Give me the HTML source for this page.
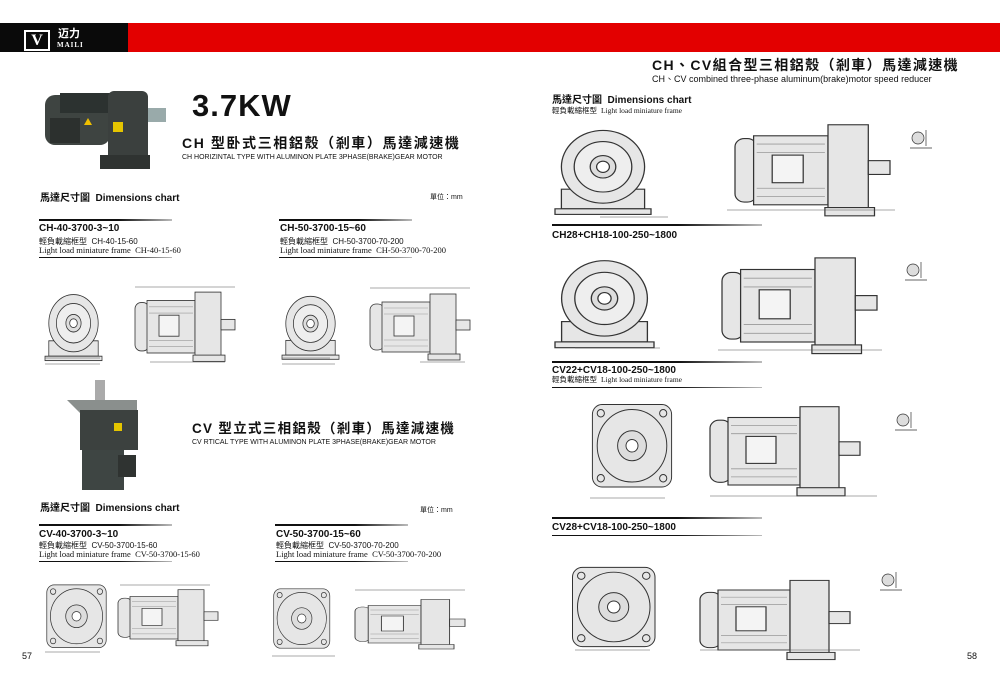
<!DOCTYPE html>
<html><head><meta charset="utf-8"><style>
*{margin:0;padding:0}
body{width:1000px;height:683px;background:#fff;position:relative;overflow:hidden;font-family:"Liberation Sans","Noto Sans CJK TC",sans-serif;color:#111}
.a{position:absolute;white-space:nowrap;line-height:1.15}
.b{font-weight:bold}
.ser{font-family:"Liberation Serif","Noto Serif CJK SC",serif}
.ln{position:absolute;height:2px;background:linear-gradient(90deg,#111 60%,#bbb)}
</style></head><body>
<div class="a" style="left:0;top:23px;width:128px;height:29px;background:#0a0a0a"></div>
<div class="a" style="left:128px;top:23px;width:872px;height:29px;background:#e30000"></div>
<div class="a" style="left:24px;top:30px;width:22px;height:17px;border:2px solid #fff;color:#fff;font:bold 16px 'Liberation Serif';text-align:center;line-height:17px">V</div>
<div class="a b" style="left:58px;top:28px;color:#fff;font-size:11px;line-height:1;font-family:'Noto Sans CJK SC',sans-serif">迈力</div>
<div class="a b ser" style="left:57px;top:42px;color:#fff;font-size:7px;line-height:1;letter-spacing:1px">MAILI</div>

<svg class="a" style="left:0;top:0" width="1000" height="683">
<defs>
<g id="side" fill="#e6e6e6" stroke="#333" stroke-width="0.8">
<rect x="0" y="12" width="14" height="46" rx="6"/>
<rect x="12" y="10" width="48" height="50"/>
<g stroke="#999" stroke-width="0.6"><line x1="14" y1="16" x2="58" y2="16"/><line x1="14" y1="22" x2="58" y2="22"/><line x1="14" y1="48" x2="58" y2="48"/><line x1="14" y1="54" x2="58" y2="54"/></g>
<rect x="24" y="24" width="20" height="20" fill="#f4f4f4"/>
<rect x="60" y="2" width="26" height="62"/>
<rect x="58" y="62" width="32" height="6"/>
<rect x="86" y="28" width="14" height="10"/>
</g>
<g id="front" fill="#e6e6e6" stroke="#333" stroke-width="0.8">
<rect x="4" y="48" width="52" height="14"/>
<circle cx="30" cy="32" r="26"/>
<circle cx="30" cy="32" r="18" fill="#eee"/>
<circle cx="30" cy="32" r="8" fill="#ddd"/>
<circle cx="30" cy="32" r="4" fill="#fff"/>
<rect x="0" y="62" width="60" height="4"/>
</g>
<g id="flange" fill="#e6e6e6" stroke="#333" stroke-width="0.8">
<rect x="2" y="2" width="66" height="66" rx="8"/>
<circle cx="35" cy="35" r="29"/>
<circle cx="35" cy="35" r="12" fill="#ddd"/>
<circle cx="35" cy="35" r="5" fill="#fff"/>
<circle cx="9" cy="9" r="3"/><circle cx="61" cy="9" r="3"/><circle cx="9" cy="61" r="3"/><circle cx="61" cy="61" r="3"/>
</g>
<g id="key" fill="#ddd" stroke="#333" stroke-width="0.7"><circle cx="8" cy="8" r="6"/><line x1="0" y1="18" x2="22" y2="18"/><line x1="16" y1="0" x2="16" y2="16"/></g>
</defs>
<g>
<rect x="45" y="95" width="65" height="50" rx="10" fill="#3e4441"/>
<rect x="60" y="93" width="50" height="20" fill="#2c3230"/>
<rect x="108" y="91" width="40" height="75" rx="6" fill="#3b403e"/>
<rect x="100" y="155" width="50" height="14" fill="#2f3331"/>
<rect x="148" y="108" width="18" height="14" fill="#9aa"/>
<rect x="50" y="118" width="30" height="25" fill="#2c302e"/>
<rect x="113" y="122" width="10" height="10" fill="#e5c500"/>
<polygon points="88,118 92,125 84,125" fill="#f0c000"/>
<rect x="95" y="380" width="10" height="30" fill="#aaa"/>
<polygon points="67,400 137,400 137,415 82,415" fill="#8a8f8d"/>
<rect x="80" y="410" width="58" height="40" fill="#3c413f"/>
<rect x="82" y="450" width="42" height="40" fill="#3e4543"/>
<rect x="118" y="455" width="18" height="22" fill="#2f3331"/>
<rect x="114" y="423" width="8" height="8" fill="#e5c500"/>
</g>
<use href="#front" transform="translate(45,288) scale(0.95,1.1)"/>
<use href="#side" transform="translate(135,290) scale(1,1.05)"/>
<use href="#front" transform="translate(282,290) scale(0.95,1.05)"/>
<use href="#side" transform="translate(370,292) scale(1,1.0)"/>
<use href="#flange" transform="translate(45,583) scale(0.9,0.95)"/>
<use href="#side" transform="translate(118,588) scale(1.0,0.85)"/>
<use href="#flange" transform="translate(272,587) scale(0.85,0.9)"/>
<use href="#side" transform="translate(355,598) scale(1.1,0.75)"/>
<use href="#front" transform="translate(555,122) scale(1.6,1.4)"/>
<use href="#side" transform="translate(735,122) scale(1.55,1.38)"/>
<use href="#key" transform="translate(910,130)"/>
<use href="#front" transform="translate(555,252) scale(1.65,1.45)"/>
<use href="#side" transform="translate(722,255) scale(1.55,1.45)"/>
<use href="#key" transform="translate(905,262)"/>
<use href="#flange" transform="translate(590,402) scale(1.2,1.25)"/>
<use href="#side" transform="translate(710,404) scale(1.5,1.35)"/>
<use href="#key" transform="translate(895,412)"/>
<use href="#flange" transform="translate(570,565) scale(1.25,1.2)"/>
<use href="#side" transform="translate(700,578) scale(1.5,1.2)"/>
<use href="#key" transform="translate(880,572)"/>
<g stroke="#555" stroke-width="0.5" fill="none">
<line x1="45" y1="358" x2="100" y2="358"/><line x1="45" y1="364" x2="100" y2="364"/>
<line x1="135" y1="287" x2="235" y2="287"/><line x1="150" y1="362" x2="225" y2="362"/>
<line x1="282" y1="358" x2="330" y2="358"/><line x1="282" y1="364" x2="335" y2="364"/>
<line x1="370" y1="288" x2="470" y2="288"/><line x1="420" y1="362" x2="465" y2="362"/>
<line x1="45" y1="652" x2="100" y2="652"/><line x1="120" y1="585" x2="210" y2="585"/>
<line x1="272" y1="656" x2="335" y2="656"/><line x1="355" y1="590" x2="465" y2="590"/>
<line x1="600" y1="217" x2="668" y2="217"/><line x1="727" y1="210" x2="895" y2="210"/>
<line x1="575" y1="348" x2="660" y2="348"/><line x1="718" y1="350" x2="882" y2="350"/>
<line x1="590" y1="498" x2="665" y2="498"/><line x1="710" y1="496" x2="877" y2="496"/>
<line x1="575" y1="650" x2="650" y2="650"/><line x1="700" y1="650" x2="860" y2="650"/>
</g>
</svg>

<div class="a b" style="left:192px;top:88px;font-size:31px;letter-spacing:1px">3.7KW</div>
<div class="a b" style="left:182px;top:135px;font-size:14px;letter-spacing:1.6px">CH 型卧式三相鋁殼（剎車）馬達減速機</div>
<div class="a" style="left:182px;top:154px;font-size:7px">CH HORIZINTAL TYPE WITH ALUMINON PLATE 3PHASE(BRAKE)GEAR MOTOR</div>
<div class="a b" style="left:40px;top:193px;font-size:10px">馬達尺寸圖 &nbsp;Dimensions chart</div>
<div class="a" style="left:430px;top:194px;font-size:7px">單位：mm</div>

<div class="ln" style="left:39px;top:219px;width:133px"></div>
<div class="a b" style="left:39px;top:223px;font-size:10px">CH-40-3700-3~10</div>
<div class="a" style="left:39px;top:237px;font-size:8px">輕負載縮框型 &nbsp;CH-40-15-60</div>
<div class="a ser" style="left:39px;top:246px;font-size:8.5px">Light load miniature frame &nbsp;CH-40-15-60</div>
<div class="ln" style="left:39px;top:257px;width:133px;height:1px"></div>
<div class="ln" style="left:279px;top:219px;width:133px"></div>
<div class="a b" style="left:280px;top:223px;font-size:10px">CH-50-3700-15~60</div>
<div class="a" style="left:280px;top:237px;font-size:8px">輕負載縮框型 &nbsp;CH-50-3700-70-200</div>
<div class="a ser" style="left:280px;top:246px;font-size:8.5px">Light load miniature frame &nbsp;CH-50-3700-70-200</div>
<div class="ln" style="left:279px;top:257px;width:133px;height:1px"></div>

<div class="a b" style="left:192px;top:421px;font-size:13.5px;letter-spacing:1.3px">CV 型立式三相鋁殼（剎車）馬達減速機</div>
<div class="a" style="left:192px;top:439px;font-size:7px">CV RTICAL TYPE WITH ALUMINON PLATE 3PHASE(BRAKE)GEAR MOTOR</div>
<div class="a b" style="left:40px;top:503px;font-size:10px">馬達尺寸圖 &nbsp;Dimensions chart</div>
<div class="a" style="left:420px;top:507px;font-size:7px">單位：mm</div>
<div class="ln" style="left:39px;top:524px;width:133px"></div>
<div class="a b" style="left:39px;top:529px;font-size:10px">CV-40-3700-3~10</div>
<div class="a" style="left:39px;top:541px;font-size:8px">輕負載縮框型 &nbsp;CV-50-3700-15-60</div>
<div class="a ser" style="left:39px;top:550px;font-size:8.5px">Light load miniature frame &nbsp;CV-50-3700-15-60</div>
<div class="ln" style="left:39px;top:561px;width:133px;height:1px"></div>
<div class="ln" style="left:275px;top:524px;width:133px"></div>
<div class="a b" style="left:276px;top:529px;font-size:10px">CV-50-3700-15~60</div>
<div class="a" style="left:276px;top:541px;font-size:8px">輕負載縮框型 &nbsp;CV-50-3700-70-200</div>
<div class="a ser" style="left:276px;top:550px;font-size:8.5px">Light load miniature frame &nbsp;CV-50-3700-70-200</div>
<div class="ln" style="left:275px;top:561px;width:133px;height:1px"></div>
<div class="a" style="left:22px;top:651px;font-size:9px">57</div>

<div class="a b" style="left:652px;top:57px;font-size:14px;letter-spacing:1.4px">CH、CV組合型三相鋁殼（剎車）馬達減速機</div>
<div class="a" style="left:652px;top:74px;font-size:9px">CH、CV combined three-phase aluminum(brake)motor speed reducer</div>
<div class="a b" style="left:552px;top:95px;font-size:10px">馬達尺寸圖 &nbsp;Dimensions chart</div>
<div class="a" style="left:552px;top:107px;font-size:7.5px">輕負載縮框型 <span class="ser">&nbsp;Light load miniature frame</span></div>
<div class="ln" style="left:552px;top:224px;width:210px"></div>
<div class="a b" style="left:552px;top:230px;font-size:10px">CH28+CH18-100-250~1800</div>
<div class="ln" style="left:552px;top:361px;width:210px"></div>
<div class="a b" style="left:552px;top:365px;font-size:10px">CV22+CV18-100-250~1800</div>
<div class="a" style="left:552px;top:376px;font-size:7.5px">輕負載縮框型 <span class="ser">&nbsp;Light load miniature frame</span></div>
<div class="ln" style="left:552px;top:387px;width:210px;height:1px"></div>
<div class="ln" style="left:552px;top:517px;width:210px"></div>
<div class="a b" style="left:552px;top:522px;font-size:10px">CV28+CV18-100-250~1800</div>
<div class="ln" style="left:552px;top:535px;width:210px;height:1px"></div>
<div class="a" style="left:967px;top:651px;font-size:9px">58</div>
</body></html>
